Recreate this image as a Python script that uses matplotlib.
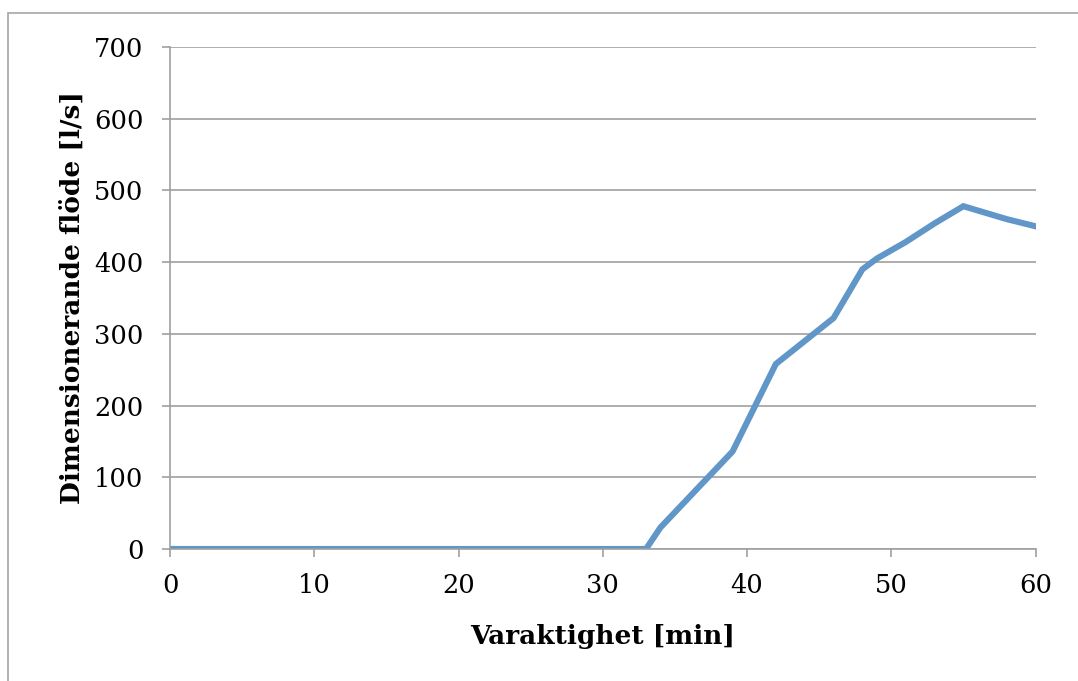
import matplotlib.pyplot as plt
from matplotlib.patches import Rectangle

# Varaktighet [min] och dimensionerande flöde [l/s]
varaktighet = [0, 10, 20, 30, 33, 34, 39, 42, 46, 48, 49, 51, 53, 55, 58, 60]
flode = [0, 0, 0, 0, 0, 30, 136, 258, 322, 390, 405, 428, 454, 478, 460, 450]

x_ticks = [0, 10, 20, 30, 40, 50, 60]
y_ticks = [0, 100, 200, 300, 400, 500, 600, 700]

plt.rcParams['font.family'] = ['DejaVu Serif']

fig = plt.figure(figsize=(10.78, 6.81), dpi=100)
ax = fig.add_axes([170 / 1078, 1 - 549 / 681, (1035.5 - 170) / 1078, (549 - 47) / 681])

# ram runt diagrammet (bara vänster och övre kant syns)
fig.patches.append(Rectangle((8 / 1078, -0.2), 1.5, 1.2 - 13 / 681,
                             transform=fig.transFigure, fill=False,
                             edgecolor='#a6a6a6', linewidth=1.2))

ax.plot(varaktighet, flode, color='#6096c8', linewidth=4.4, solid_joinstyle='miter')

ax.set_xlim(0, 60)
ax.set_ylim(0, 700)
ax.set_xticks(x_ticks)
ax.set_yticks(y_ticks)
ax.grid(axis='y', color='#a0a0a0', linewidth=1.2)
ax.set_axisbelow(True)

for s in ['top', 'right']:
    ax.spines[s].set_visible(False)
for s in ['left', 'bottom']:
    ax.spines[s].set_color('#a0a0a0')
    ax.spines[s].set_linewidth(1.2)

ax.tick_params(axis='both', direction='out', length=6, width=1.2, color='#a0a0a0',
               labelsize=18.5, labelcolor='black')
ax.tick_params(axis='x', pad=11)
ax.tick_params(axis='y', pad=13)

ax.set_xlabel('Varaktighet [min]', fontsize=19, fontweight='bold', labelpad=19)
ax.set_ylabel('Dimensionerande flöde [l/s]', fontsize=19, fontweight='bold', labelpad=7)

fig.savefig('out.png', dpi=100)
